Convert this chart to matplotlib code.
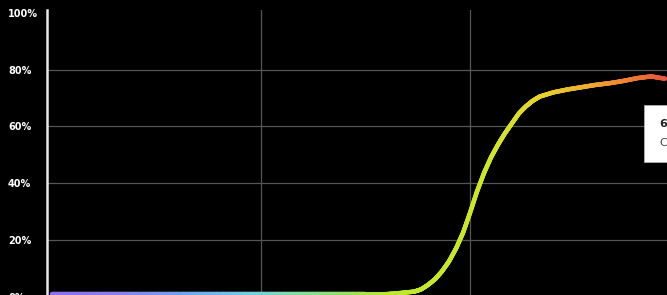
import numpy as np
import matplotlib
matplotlib.use("Agg")
import matplotlib.pyplot as plt
from matplotlib.collections import LineCollection
from matplotlib.colors import LinearSegmentedColormap

# ---- data ----
days = [0, 5, 10, 15, 20, 25, 30, 35, 40, 45, 48, 50, 52, 53, 54, 55, 56, 57, 58, 59,
        60, 61, 62, 63, 64, 65, 66, 67, 68, 69, 70, 72, 74, 76, 78, 80, 82, 84, 86, 88]
share = [0.8, 0.8, 0.8, 0.8, 0.8, 0.8, 0.8, 0.8, 0.8, 0.8, 0.9, 1.3, 1.8, 2.6, 4.2, 6.2,
         9.0, 12.5, 17.0, 22.5, 29.5, 37.0, 43.5, 49.0, 53.5, 57.5, 61.0, 64.5, 67.0, 69.0,
         70.5, 72.0, 73.0, 73.8, 74.6, 75.2, 76.0, 77.0, 77.6, 76.8]
ytick_vals = [0, 20, 40, 60, 80, 100]
ytick_labels = ["0%", "20%", "40%", "60%", "80%", "100%"]
xgrid = [30, 60]
tooltip_title = "66%"
tooltip_sub = "Chrome"

# ---- figure ----
W, H = 667, 295
fig = plt.figure(figsize=(W / 100, H / 100), dpi=100, facecolor="black")
ax = fig.add_axes([47 / W, -1.7 / H, 620 / W, 286.7 / H])
ax.set_facecolor("black")
xmin, xmax = -0.72, 88.28
ax.set_xlim(xmin, xmax)
ax.set_ylim(0, 101)

for s in ["top", "right", "bottom"]:
    ax.spines[s].set_visible(False)
ax.spines["left"].set_color("#e8e8e8")
ax.spines["left"].set_linewidth(1.8)

for y in ytick_vals[1:-1]:
    ax.axhline(y, color="#555555", lw=0.9, zorder=1)
for x in xgrid:
    ax.axvline(x, color="#555555", lw=0.9, zorder=1)

ax.set_xticks([])
ax.set_yticks(ytick_vals)
ax.set_yticklabels(ytick_labels)
ax.tick_params(axis="y", length=0, pad=28, labelcolor="white", labelsize=7)
for lbl in ax.get_yticklabels():
    lbl.set_horizontalalignment("left")
    lbl.set_fontweight("bold")

# gradient line
cmap = LinearSegmentedColormap.from_list("grad", [
    (0.00, "#8e6cf0"),
    (0.12, "#8a80f0"),
    (0.23, "#6fa8f2"),
    (0.33, "#72d0e2"),
    (0.41, "#82e0a0"),
    (0.49, "#98e060"),
    (0.55, "#bde82e"),
    (0.72, "#d2e820"),
    (0.81, "#e8d02c"),
    (0.88, "#f0aa30"),
    (0.94, "#f08032"),
    (1.00, "#e8583a"),
])
xd = np.asarray(days, float)
yd = np.asarray(share, float)
# subdivide each straight segment for a smooth colour gradient (same polyline)
xs, ys = [], []
for i in range(len(xd) - 1):
    t = np.linspace(0, 1, 20, endpoint=False)
    xs.append(xd[i] + (xd[i + 1] - xd[i]) * t)
    ys.append(yd[i] + (yd[i + 1] - yd[i]) * t)
xs.append([xd[-1]]); ys.append([yd[-1]])
xs = np.concatenate(xs); ys = np.concatenate(ys)
pts = np.column_stack([xs, ys]).reshape(-1, 1, 2)
segs = np.concatenate([pts[:-1], pts[1:]], axis=1)
mid = (xs[:-1] + xs[1:]) / 2
lc = LineCollection(segs, colors=cmap((mid - xmin) / (xmax - xmin)), linewidths=3.2,
                    capstyle="round", joinstyle="round", zorder=3)
lc.set_clip_on(False)
ax.add_collection(lc)

# tooltip box (cut by the right edge, as in the reference)
fig.patches.append(plt.Rectangle((644 / W, 1 - 162 / H), 60 / W, 57 / H,
                                 transform=fig.transFigure, facecolor="white",
                                 edgecolor="#bbbbbb", lw=0.5, zorder=5))
fig.text(659 / W, 1 - 124 / H, tooltip_title, fontsize=8, fontweight="bold",
         color="#222222", va="center", ha="left", zorder=6)
fig.text(659 / W, 1 - 143 / H, tooltip_sub, fontsize=8, color="#444444",
         va="center", ha="left", zorder=6)

fig.savefig("out.png", dpi=100, facecolor="black")
